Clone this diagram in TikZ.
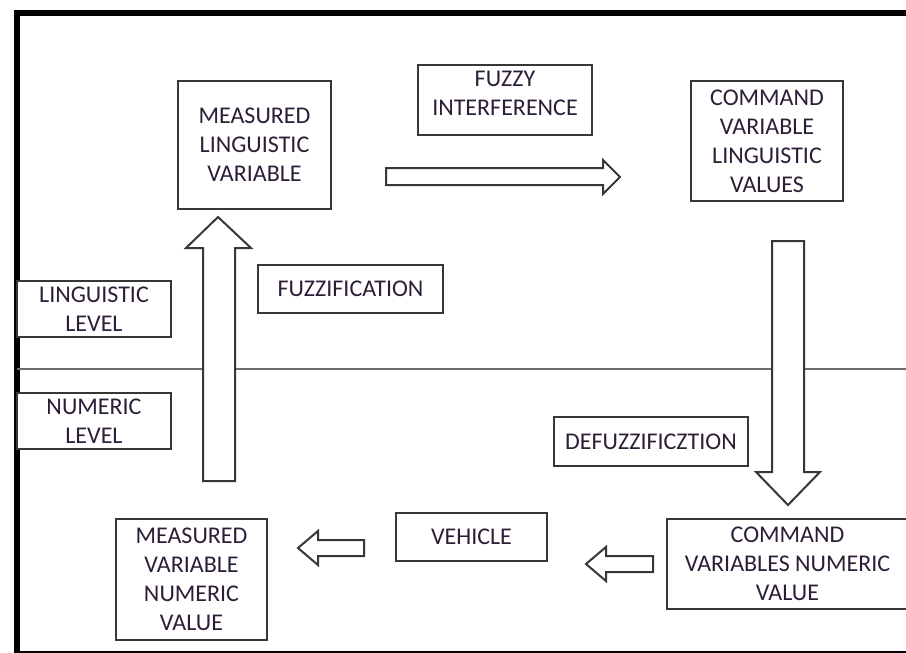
\documentclass[tikz,border=0pt]{standalone}
\usepackage{fontspec}
\setmainfont{Carlito}
\definecolor{boxgray}{RGB}{55,55,55}
\definecolor{txtcol}{RGB}{45,30,55}
\definecolor{linegray}{RGB}{110,110,110}
\begin{document}
\begin{tikzpicture}[x=1pt,y=-1pt,
  box/.style={draw=boxgray, line width=2pt, fill=white, inner sep=0pt},
  txt/.style={text=txtcol, font=\fontsize{24}{29}\selectfont, align=center},
  barrow/.style={draw=boxgray, line width=2pt, fill=white, line join=miter},
  frameline/.style={line width=6pt, black},
  levelline/.style={line width=2.5pt, linegray}]
\useasboundingbox (0,0) rectangle (906,653);
\fill[white] (0,0) rectangle (906,653);
% frame
\draw[frameline] (906,13) -- (17,13) -- (17,654) -- (906,654);
% level separator
\coordinate (sepL) at (17,369);
\coordinate (sepR) at (906,369);
\draw[levelline] (sepL) -- (sepR);
% block arrows
\draw[barrow] (203,481) -- (203,248) -- (186,248) -- (218,217) -- (251,248) -- (235,248) -- (235,481) -- cycle;
\draw[barrow] (386,168) -- (603,168) -- (603,160) -- (620,177) -- (603,194) -- (603,185) -- (386,185) -- cycle;
\draw[barrow] (772,241) -- (804,241) -- (804,472) -- (820,472) -- (788,505) -- (756,472) -- (772,472) -- cycle;
\draw[barrow] (653,556) -- (606,556) -- (606,547) -- (586,564) -- (606,581) -- (606,572) -- (653,572) -- cycle;
\draw[barrow] (364,540) -- (318,540) -- (318,531) -- (298,548) -- (318,565) -- (318,556) -- (364,556) -- cycle;
% boxes
\node[box, txt, minimum width=153pt, minimum height=128pt] (mlv) at (254.5,145) {MEASURED\\LINGUISTIC\\VARIABLE};
\node[box, minimum width=174pt, minimum height=70pt] (fuzzy) at (505,100) {};
\node[txt, inner sep=0pt] (fuzzyt) at (505,93) {FUZZY\\INTERFERENCE};
\node[box, txt, minimum width=152pt, minimum height=120pt] (cvl) at (767,141) {COMMAND\\VARIABLE\\LINGUISTIC\\VALUES};
\node[box, txt, minimum width=154pt, minimum height=56pt] (ling) at (94,309) {LINGUISTIC\\LEVEL};
\node[box, txt, minimum width=185pt, minimum height=48pt] (fuzzif) at (350.5,289) {FUZZIFICATION};
\node[box, txt, minimum width=154pt, minimum height=56pt] (num) at (94,421) {NUMERIC\\LEVEL};
\node[box, txt, minimum width=194pt, minimum height=49pt] (defuzz) at (651,441.5) {DEFUZZIFICZTION};
\node[box, txt, minimum width=151pt, minimum height=48pt] (veh) at (471.5,537) {VEHICLE};
\node[box, txt, minimum width=241pt, minimum height=90pt] (cvn) at (787.5,564) {COMMAND\\VARIABLES NUMERIC\\VALUE};
\node[box, txt, minimum width=151pt, minimum height=121pt] (mvn) at (191.5,579.5) {MEASURED\\VARIABLE\\NUMERIC\\VALUE};
\end{tikzpicture}
\end{document}
